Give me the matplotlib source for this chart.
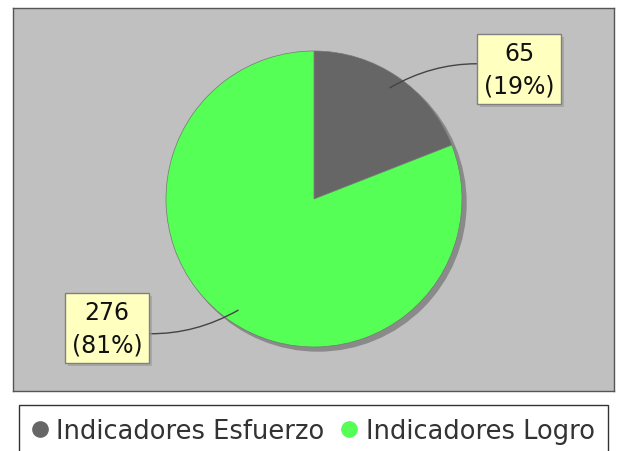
import numpy as np
import matplotlib
matplotlib.use("Agg")
from matplotlib import pyplot as plt
from matplotlib.lines import Line2D
from matplotlib.patches import Circle
import matplotlib.patheffects as pe

# data
labels = ['Indicadores Esfuerzo', 'Indicadores Logro']
values = [65, 276]
colors = ['#666666', '#55ff55']

total = sum(values)
pcts = [v / total * 100 for v in values]

fig = plt.figure(figsize=(6.18, 4.52), dpi=100)
fig.patch.set_facecolor('white')

# plot area in pixel-ish data units
ax = fig.add_axes([13 / 618, 60 / 452, 601 / 618, 383 / 452])
ax.set_facecolor('#c0c0c0')
for s in ax.spines.values():
    s.set_color('#555555')
    s.set_linewidth(1.0)

cx, cy, r = 301, 192, 148

# shadow
ax.add_patch(Circle((cx + 4, cy - 4), r, color='#8a8a8a', zorder=1))

wedges, _ = ax.pie(values, colors=colors, startangle=90, counterclock=False,
                   center=(cx, cy), radius=r, frame=True,
                   wedgeprops=dict(linewidth=0.5, edgecolor='#777777', zorder=2))
ax.set_xlim(0, 601)
ax.set_ylim(0, 383)
ax.set_aspect('auto')
ax.set_xticks([])
ax.set_yticks([])

# labels with leader lines
label_pos = [(506, 322), (94, 63)]
rads = [0.2, 0.2]
start = 90.0
for i, v in enumerate(values):
    span = v / total * 360
    mid = np.radians(start - span / 2)
    start -= span
    px = cx + 0.91 * r * np.cos(mid)
    py = cy + 0.91 * r * np.sin(mid)
    t = ax.annotate('%d\n(%d%%)' % (v, round(pcts[i])), xy=(px, py),
                    xytext=label_pos[i], ha='center', va='center',
                    fontsize=17, linespacing=1.45, color='#111111', zorder=5,
                    bbox=dict(boxstyle='square,pad=0.28', fc='#ffffc0',
                              ec='#808080', lw=1),
                    arrowprops=dict(arrowstyle='-', color='#444444', lw=1,
                                    shrinkA=0, shrinkB=0,
                                    connectionstyle='arc3,rad=%s' % rads[i]))
    t.get_bbox_patch().set_path_effects([
        pe.SimplePatchShadow(offset=(2, -2), shadow_rgbFace='#999999', alpha=0.6),
        pe.Normal()])

handles = [Line2D([], [], marker='o', linestyle='none', markersize=11,
                  markerfacecolor=c, markeredgecolor=c) for c in colors]
leg = fig.legend(handles, labels, loc='upper center', ncol=2,
                 bbox_to_anchor=(0.507, 1 - 406 / 452), fontsize=18.5,
                 frameon=True, fancybox=False, edgecolor='black',
                 handletextpad=0.35, columnspacing=0.65, borderpad=0.5,
                 borderaxespad=0, handlelength=0.6, labelcolor='#333333')
leg.get_frame().set_linewidth(1.0)

fig.savefig('out.png', dpi=100)
